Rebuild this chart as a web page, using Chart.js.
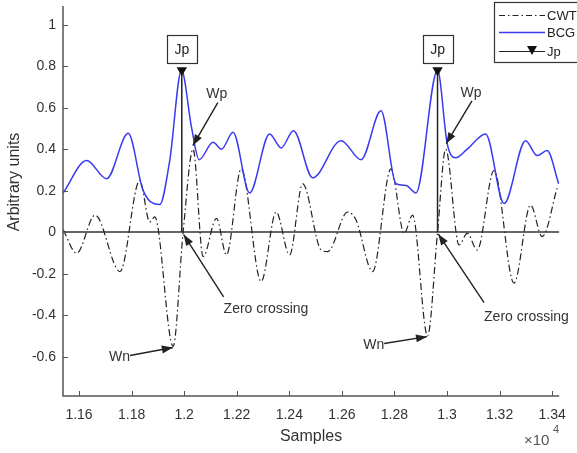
<!DOCTYPE html>
<html>
<head>
<meta charset="utf-8">
<script src="https://cdn.jsdelivr.net/npm/chart.js@4.4.1/dist/chart.umd.min.js"></script>
<style>
  html, body { margin: 0; padding: 0; background: #fff; }
</style>
</head>
<body>
<canvas id="chart" width="577" height="453"></canvas>
<script>
// BCG signal (blue)
const bcgX = [11540, 11629, 11705, 11787, 11844, 11907, 11945, 11990, 12028, 12057, 12110, 12142, 12186, 12249,
  12325, 12369, 12416, 12489, 12597, 12673, 12749, 12806, 12844, 12882, 12964, 13001, 13033, 13077, 13147,
  13217, 13299, 13343, 13381, 13425];
const bcgY = [0.19, 0.345, 0.257, 0.476, 0.20, 0.133, 0.345, 0.78, 0.505, 0.349, 0.433, 0.40, 0.481, 0.189,
  0.473, 0.406, 0.489, 0.262, 0.441, 0.349, 0.585, 0.233, 0.225, 0.189, 0.78, 0.425, 0.358, 0.40, 0.473,
  0.138, 0.441, 0.369, 0.393, 0.233];

// CWT output (black dash-dot)
const cwtX = [11540, 11591, 11661, 11756, 11831, 11869, 11888, 11958, 11996, 12034, 12072, 12123, 12161, 12217,
  12293, 12350, 12401, 12451, 12521, 12546, 12622, 12654, 12717, 12787, 12837, 12869, 12926, 12964, 12995,
  13046, 13077, 13115, 13179, 13255, 13318, 13362, 13420];
const cwtY = [0.01, -0.102, 0.082, -0.19, 0.249, 0.049, 0.073, -0.55, 0, 0.40, -0.118, 0.066, -0.11, 0.305,
  -0.238, 0.097, -0.11, 0.233, -0.086, -0.094, 0.097, 0.058, -0.19, 0.305, -0.006, 0.082, -0.50, 0, 0.40,
  -0.062, -0.006, -0.086, 0.297, -0.246, 0.13, -0.022, 0.217];

// J peaks
const jpX = [11991, 12964];
const jpY = [0.78, 0.78];

// axis ticks
const xTicks = [11600, 11800, 12000, 12200, 12400, 12600, 12800, 13000, 13200, 13400];
const yTicks = [-0.6, -0.4, -0.2, 0, 0.2, 0.4, 0.6, 0.8, 1];
const xMin = 11539, xMax = 13427, yMin = -0.79, yMax = 1.09;

// text annotations with arrows (tip -> the point, tail -> where the label sits)
const arrows = [
  { text: 'Wp', tip: [12033, 0.417], tail: [12128, 0.624], label: [12124, 0.667], align: 'center' },
  { text: 'Wp', tip: [12997, 0.427], tail: [13095, 0.633], label: [13091, 0.671], align: 'center' },
  { text: 'Zero crossing', tip: [11998, -0.012], tail: [12150, -0.312], label: [12150, -0.369], align: 'left' },
  { text: 'Zero crossing', tip: [12967, -0.01], tail: [13141, -0.34], label: [13141, -0.408], align: 'left' },
  { text: 'Wn', tip: [11957, -0.556], tail: [11794, -0.595], label: [11794, -0.604], align: 'right' },
  { text: 'Wn', tip: [12924, -0.504], tail: [12761, -0.537], label: [12761, -0.547], align: 'right' }
];

const FONT = 'Liberation Sans, Arial, Helvetica, sans-serif';
const AXIS_COLOR = '#555555';

const toPoints = (xs, ys) => xs.map((x, i) => ({ x: x, y: ys[i] }));

// Jp stems from zero up to the peak, broken by a null in between
const jpData = [];
jpX.forEach((x, i) => {
  if (i > 0) jpData.push({ x: (jpX[i - 1] + x) / 2, y: null });
  jpData.push({ x: x, y: 0 });
  jpData.push({ x: x, y: jpY[i] });
});

function drawArrowHead(ctx, x1, y1, x2, y2, len, wid) {
  const a = Math.atan2(y2 - y1, x2 - x1);
  ctx.beginPath();
  ctx.moveTo(x2, y2);
  ctx.lineTo(x2 - len * Math.cos(a) + wid / 2 * Math.sin(a), y2 - len * Math.sin(a) - wid / 2 * Math.cos(a));
  ctx.lineTo(x2 - len * Math.cos(a) - wid / 2 * Math.sin(a), y2 - len * Math.sin(a) + wid / 2 * Math.cos(a));
  ctx.closePath();
  ctx.fill();
}

// axes, ticks, labels, legend drawn by hand in MATLAB style
const decorations = {
  id: 'decorations',
  afterDatasetsDraw(chart) {
    const ctx = chart.ctx;
    const xs = chart.scales.x, ys = chart.scales.y;
    const area = chart.chartArea;
    ctx.save();

    // axis lines
    ctx.strokeStyle = AXIS_COLOR;
    ctx.lineWidth = 1.5;
    ctx.beginPath();
    ctx.moveTo(area.left, area.top);
    ctx.lineTo(area.left, area.bottom);
    ctx.lineTo(area.right, area.bottom);
    ctx.stroke();

    // inward ticks
    ctx.lineWidth = 1;
    xTicks.forEach(v => {
      const px = Math.round(xs.getPixelForValue(v)) + 0.5;
      ctx.beginPath();
      ctx.moveTo(px, area.bottom);
      ctx.lineTo(px, area.bottom - 5);
      ctx.stroke();
    });
    ctx.fillStyle = '#333333';
    ctx.font = '14px ' + FONT;
    ctx.textAlign = 'right';
    ctx.textBaseline = 'middle';
    yTicks.forEach(v => {
      const py = Math.round(ys.getPixelForValue(v)) + 0.5;
      ctx.beginPath();
      ctx.moveTo(area.left, py);
      ctx.lineTo(area.left + 5, py);
      ctx.stroke();
      ctx.fillText(String(+v.toFixed(1)), area.left - 7, py);
    });

    // axis titles
    ctx.fillStyle = '#333333';
    ctx.font = '16px ' + FONT;
    ctx.textAlign = 'center';
    ctx.textBaseline = 'middle';
    ctx.fillText('Samples', 311, 437);
    ctx.save();
    ctx.translate(15, 182);
    ctx.rotate(-Math.PI / 2);
    ctx.fillText('Arbitrary units', 0, 0);
    ctx.restore();
    ctx.fillStyle = '#555555';
    ctx.font = '15px ' + FONT;
    ctx.textAlign = 'left';
    ctx.fillText('\u00d710', 524, 441);
    ctx.font = '11px ' + FONT;
    ctx.fillText('4', 553, 430);

    // Jp boxes
    ctx.font = '14px ' + FONT;
    ctx.textAlign = 'center';
    jpX.forEach(x => {
      const px = xs.getPixelForValue(x);
      const py = ys.getPixelForValue(0.882);
      ctx.fillStyle = '#ffffff';
      ctx.fillRect(px - 15, py - 14, 30, 28);
      ctx.strokeStyle = '#333333';
      ctx.lineWidth = 1.2;
      ctx.strokeRect(Math.round(px - 15) + 0.5, Math.round(py - 14) + 0.5, 30, 28);
      ctx.fillStyle = '#222222';
      ctx.fillText('Jp', px, py + 1);
    });

    // arrows and labels
    arrows.forEach(a => {
      const tx = xs.getPixelForValue(a.tip[0]), ty = ys.getPixelForValue(a.tip[1]);
      const sx = xs.getPixelForValue(a.tail[0]), sy = ys.getPixelForValue(a.tail[1]);
      ctx.strokeStyle = '#222222';
      ctx.fillStyle = '#222222';
      ctx.lineWidth = 1.4;
      ctx.beginPath();
      ctx.moveTo(sx, sy);
      ctx.lineTo(tx, ty);
      ctx.stroke();
      drawArrowHead(ctx, sx, sy, tx, ty, 11, 8);
      ctx.font = '14px ' + FONT;
      ctx.textAlign = a.align;
      ctx.textBaseline = 'middle';
      ctx.fillStyle = '#333333';
      ctx.fillText(a.text, xs.getPixelForValue(a.label[0]), ys.getPixelForValue(a.label[1]));
    });

    // legend
    ctx.fillStyle = '#ffffff';
    ctx.fillRect(494, 2, 100, 60);
    ctx.strokeStyle = '#333333';
    ctx.lineWidth = 1.2;
    ctx.strokeRect(494.5, 2.5, 100, 60);
    const entries = [
      { label: 'CWT', y: 15, color: '#222222', dash: [6, 3, 1.5, 3], width: 1.2 },
      { label: 'BCG', y: 32, color: '#3a3af0', dash: [], width: 1.4 },
      { label: 'Jp', y: 51, color: '#222222', dash: [], width: 1.2, marker: true }
    ];
    entries.forEach(e => {
      ctx.strokeStyle = e.color;
      ctx.lineWidth = e.width;
      ctx.setLineDash(e.dash);
      ctx.beginPath();
      ctx.moveTo(499, e.y + 0.5);
      ctx.lineTo(545, e.y + 0.5);
      ctx.stroke();
      ctx.setLineDash([]);
      if (e.marker) {
        ctx.fillStyle = '#111111';
        ctx.beginPath();
        ctx.moveTo(527, e.y - 5);
        ctx.lineTo(537, e.y - 5);
        ctx.lineTo(532, e.y + 4);
        ctx.closePath();
        ctx.fill();
      }
      ctx.fillStyle = '#222222';
      ctx.font = '13px ' + FONT;
      ctx.textAlign = 'left';
      ctx.textBaseline = 'middle';
      ctx.fillText(e.label, 547, e.y + 1);
    });

    ctx.restore();
  }
};

const config = {
  type: 'line',
  data: {
    datasets: [
      {
        label: 'Zero',
        data: [{ x: xMin, y: 0 }, { x: xMax, y: 0 }],
        borderColor: '#333333',
        borderWidth: 1.5,
        pointRadius: 0,
        order: 4
      },
      {
        label: 'CWT',
        data: toPoints(cwtX, cwtY),
        borderColor: '#222222',
        borderWidth: 1.2,
        borderDash: [7, 3, 1.5, 3],
        pointRadius: 0,
        cubicInterpolationMode: 'monotone',
        order: 3
      },
      {
        label: 'BCG',
        data: toPoints(bcgX, bcgY),
        borderColor: '#3a3af0',
        borderWidth: 1.5,
        pointRadius: 0,
        cubicInterpolationMode: 'monotone',
        order: 2
      },
      {
        label: 'Jp',
        data: jpData,
        borderColor: '#222222',
        backgroundColor: '#111111',
        borderWidth: 1.5,
        spanGaps: false,
        pointStyle: 'triangle',
        rotation: 180,
        pointRadius: ctx => (ctx.raw && ctx.raw.y > 0 ? 6 : 0),
        pointBorderWidth: 0,
        order: 1
      }
    ]
  },
  options: {
    responsive: false,
    animation: false,
    devicePixelRatio: 1,
    layout: { padding: { top: 5, right: 17, left: 0, bottom: 0 } },
    plugins: {
      legend: { display: false },
      tooltip: { enabled: false }
    },
    scales: {
      x: {
        type: 'linear',
        min: xMin,
        max: xMax,
        afterBuildTicks: s => { s.ticks = xTicks.map(v => ({ value: v })); },
        afterFit: s => { s.height = 57; },
        grid: { display: false, drawTicks: false },
        border: { display: false },
        ticks: {
          padding: 11,
          color: '#333333',
          font: { family: FONT, size: 14 },
          maxRotation: 0,
          callback: v => String(+(v / 10000).toFixed(2))
        }
      },
      y: {
        type: 'linear',
        min: yMin,
        max: yMax,
        afterBuildTicks: s => { s.ticks = yTicks.map(v => ({ value: v })); },
        afterFit: s => { s.width = 63; },
        grid: { display: false, drawTicks: false },
        border: { display: false },
        ticks: { display: false }
      }
    }
  },
  plugins: [decorations]
};

const ctx = document.getElementById('chart').getContext('2d');
const chart = new Chart(ctx, config);
</script>
</body>
</html>
